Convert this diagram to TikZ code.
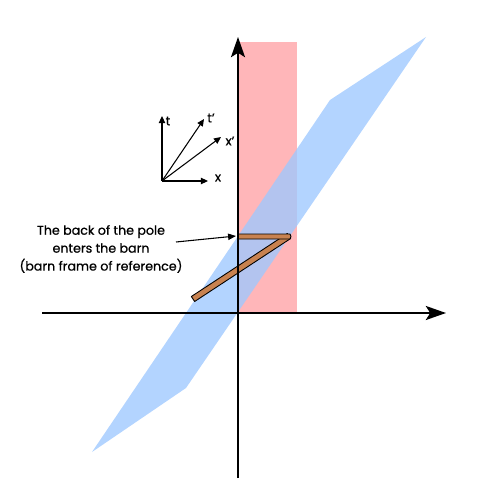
\documentclass[tikz,border=0pt]{standalone}
\usepackage{fontspec}
\setmainfont{Poppins}[FakeBold=0.7]
\usetikzlibrary{arrows.meta}
\definecolor{barnred}{RGB}{255,182,185}
\definecolor{bandblue}{RGB}{158,200,255}
\definecolor{polebrown}{RGB}{200,130,80}
\tikzset{
  mainaxis/.style={line width=1.1pt,-{Stealth[length=11.5pt,width=8pt,inset=2.5pt]}},
  smallaxis/.style={line width=0.6pt,-{Triangle[length=4pt,width=3.6pt]}},
  lbl/.style={font=\fontsize{7.2pt}{10.2pt}\selectfont},
  polebar/.style={fill=polebrown,draw=black,line width=0.5pt,line join=round},
}
\begin{document}
\begin{tikzpicture}[x=0.02cm,y=-0.02cm]
\useasboundingbox (0,0) rectangle (500,500);
% barn
\fill[barnred] (238,42) rectangle (297,313);
% pole world band
\fill[bandblue,opacity=0.78] (92,452) -- (186,388) -- (426,37) -- (330,100) -- cycle;
% pole
\draw[polebar] (287.35,233.5) -- (290.65,238.5) -- (194.65,301.5) -- (191.35,296.5) -- cycle;
\draw[polebar] (238,234) -- (290,234) -- (291,236.5) -- (290,239) -- (238,239) -- cycle;
% axes
\coordinate (vb) at (238,478);
\coordinate (vt) at (238,37);
\coordinate (hl) at (42,313);
\coordinate (hr) at (446,313);
\draw[mainaxis] (vb) -- (vt);
\draw[mainaxis] (hl) -- (hr);
% small axes
\coordinate (o) at (162,181);
\node[lbl] (lt) at (168,121) {t};
\node[lbl] (ltp) at (211,118) {t'};
\node[lbl] (lxp) at (230,141) {x'};
\node[lbl] (lx) at (218,178) {x};
\draw[smallaxis] (o) -- (162,116);
\draw[smallaxis] (o) -- (204,119);
\draw[smallaxis] (o) -- (221,137);
\draw[smallaxis] (o) -- (208,181);
% annotation
\node[lbl,align=center] (note) at (101,249) {The back of the pole\\enters the barn\\(barn frame of reference)};
\coordinate (notetip) at (236,236);
\draw[line width=0.6pt,-{Triangle[length=4.5pt,width=3.6pt]}] (176,242) -- (notetip);
\end{tikzpicture}
\end{document}
